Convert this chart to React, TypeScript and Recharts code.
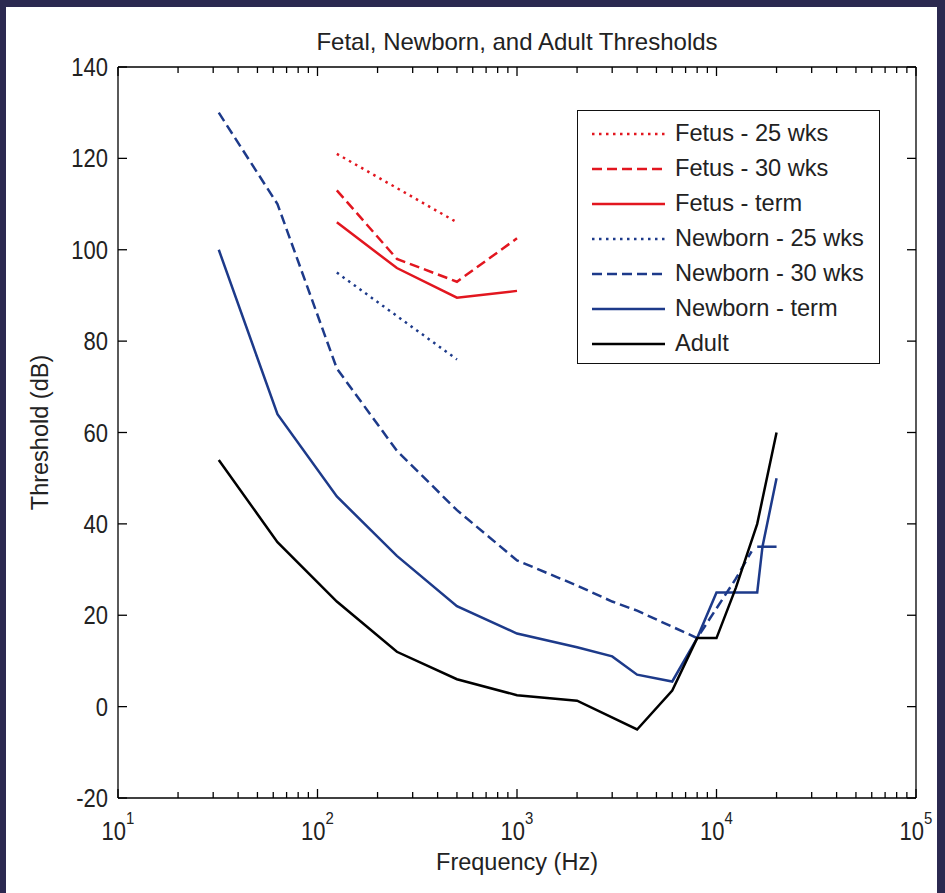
import React from 'react';
import { LineChart, Line, XAxis, YAxis, Legend } from 'recharts';

const RED = '#e2161f';
const BLUE = '#1d3a8a';
const BLACK = '#000000';
const FONT = '"Liberation Sans", Arial, sans-serif';

// frequency (Hz) / threshold (dB) pairs
const FETUS_FREQ = [125, 250, 500, 1000];
const FETUS_25 = [121, 113.5, 106];
const FETUS_30 = [113, 98, 93, 102.5];
const FETUS_TERM = [106, 96, 89.5, 91];

const NB25_FREQ = [125, 250, 500];
const NEWBORN_25 = [95, 85.5, 76];

const NB30_FREQ = [32, 63, 125, 250, 500, 1000, 2000, 3000, 4000, 8000, 12500, 15000];
const NEWBORN_30 = [130, 110, 74, 56, 43, 32, 26.5, 23, 21, 15, 28, 34];

const NBTERM_FREQ = [32, 63, 125, 250, 500, 1000, 2000, 3000, 4000, 6000, 8000, 10000, 16000, 17000, 20000];
const NEWBORN_TERM = [100, 64, 46, 33, 22, 16, 13, 11, 7, 5.5, 15, 25, 25, 35, 50];
// short horizontal piece on the newborn-term curve near 16-20 kHz
const NBTERM_STUB_FREQ = [16000, 20000];
const NEWBORN_TERM_STUB = [35, 35];

const ADULT_FREQ = [32, 63, 125, 250, 500, 1000, 2000, 4000, 6000, 8000, 10000, 12500, 16000, 20000];
const ADULT = [54, 36, 23, 12, 6, 2.5, 1.3, -5, 3.5, 15, 15, 26, 40, 60];

const X_DECADES = [10, 100, 1000, 10000, 100000];
const X_MINOR_MULT = [1, 2, 3, 4, 5, 6, 7, 8, 9];
const Y_TICKS = [-20, 0, 20, 40, 60, 80, 100, 120, 140];

const X_TICKS = X_DECADES.flatMap((d) => (d < 100000 ? X_MINOR_MULT.map((m) => m * d) : [d]));

const zip = (freq: number[], vals: number[]) => vals.map((v, i) => ({ f: freq[i], v }));

const SERIES = [
  { name: 'Fetus - 25 wks', data: zip(FETUS_FREQ, FETUS_25), color: RED, dash: '2.5 4.5' },
  { name: 'Fetus - 30 wks', data: zip(FETUS_FREQ, FETUS_30), color: RED, dash: '10 5' },
  { name: 'Fetus - term', data: zip(FETUS_FREQ, FETUS_TERM), color: RED, dash: undefined },
  { name: 'Newborn - 25 wks', data: zip(NB25_FREQ, NEWBORN_25), color: BLUE, dash: '2.5 4.5' },
  { name: 'Newborn - 30 wks', data: zip(NB30_FREQ, NEWBORN_30), color: BLUE, dash: '10 5' },
  { name: 'Newborn - term', data: zip(NBTERM_FREQ, NEWBORN_TERM), color: BLUE, dash: undefined },
  { name: 'Adult', data: zip(ADULT_FREQ, ADULT), color: BLACK, dash: undefined },
];

const TICK_TEXT = { fontFamily: FONT, fill: '#222' };

const BottomTick = (props: any) => {
  const { x, y, payload } = props;
  const major = X_DECADES.includes(payload.value);
  return (
    <g>
      <line x1={x} y1={y} x2={x} y2={y - (major ? 9 : 6)} stroke="#000" strokeWidth={1.3} />
      {major && (
        <text transform={`translate(${x},${y + 42}) scale(0.88,1)`} textAnchor="middle" fontSize={25} {...TICK_TEXT}>
          10
          <tspan dy={-16} fontSize={17}>
            {Math.round(Math.log10(payload.value))}
          </tspan>
        </text>
      )}
    </g>
  );
};

const TopTick = (props: any) => {
  const { x, y, payload } = props;
  const major = X_DECADES.includes(payload.value);
  return <line x1={x} y1={y} x2={x} y2={y + (major ? 9 : 6)} stroke="#000" strokeWidth={1.3} />;
};

const LeftTick = (props: any) => {
  const { x, y, payload } = props;
  return (
    <g>
      <line x1={x} y1={y} x2={x + 9} y2={y} stroke="#000" strokeWidth={1.3} />
      <text transform={`translate(${x - 10},${y}) scale(0.88,1)`} textAnchor="end" dy="0.36em" fontSize={25} {...TICK_TEXT}>
        {payload.value}
      </text>
    </g>
  );
};

const RightTick = (props: any) => {
  const { x, y } = props;
  return <line x1={x} y1={y} x2={x - 9} y2={y} stroke="#000" strokeWidth={1.3} />;
};

const LegendBox = () => (
  <div
    style={{
      width: 303,
      height: 254,
      border: '1.5px solid #111',
      background: '#fff',
      boxSizing: 'border-box',
      paddingTop: 5,
    }}
  >
    {SERIES.map((s) => (
      <div key={s.name} style={{ display: 'flex', alignItems: 'center', height: 35 }}>
        <svg width={88} height={10} style={{ display: 'block' }}>
          <line x1={14} x2={87} y1={5} y2={5} stroke={s.color} strokeWidth={2.5} strokeDasharray={s.dash} />
        </svg>
        <span style={{ marginLeft: 9, fontFamily: FONT, fontSize: 23.6, color: '#222', lineHeight: 1 }}>{s.name}</span>
      </div>
    ))}
  </div>
);

export default function App() {
  return (
    <div style={{ position: 'absolute', left: 0, top: 0, width: 945, height: 893, background: '#2b2950' }}>
      <div style={{ position: 'absolute', left: 6, top: 7, width: 931, height: 886, background: '#fff' }} />
      <div style={{ position: 'absolute', left: 0, top: 0 }}>
        <LineChart width={945} height={893} margin={{ top: 66, right: 28, bottom: 94, left: 117 }}>
          <XAxis
            dataKey="f"
            type="number"
            scale="log"
            domain={[10, 100000]}
            allowDataOverflow
            ticks={X_TICKS}
            interval={0}
            height={1}
            tickSize={0}
            tickMargin={0}
            tickLine={false}
            tick={<BottomTick />}
            stroke="#000"
            strokeWidth={1.3}
            label={{ value: 'Frequency (Hz)', position: 'bottom', offset: 54, fontSize: 23.5, fontFamily: FONT, fill: '#222' }}
          />
          <XAxis
            xAxisId="top"
            orientation="top"
            dataKey="f"
            type="number"
            scale="log"
            domain={[10, 100000]}
            allowDataOverflow
            ticks={X_TICKS}
            interval={0}
            height={1}
            tickSize={0}
            tickMargin={0}
            tickLine={false}
            tick={<TopTick />}
            stroke="#000"
            strokeWidth={1.3}
            label={{
              value: 'Fetal, Newborn, and Adult Thresholds',
              position: 'top',
              offset: 16,
              fontSize: 24,
              fontFamily: FONT,
              fill: '#222',
            }}
          />
          <YAxis
            type="number"
            domain={[-20, 140]}
            allowDataOverflow
            ticks={Y_TICKS}
            interval={0}
            width={1}
            tickSize={0}
            tickMargin={0}
            tickLine={false}
            tick={<LeftTick />}
            stroke="#000"
            strokeWidth={1.3}
            label={{
              value: 'Threshold (dB)',
              position: 'center',
              angle: -90,
              dx: -78,
              fontSize: 23.5,
              fontFamily: FONT,
              fill: '#222',
            }}
          />
          <YAxis
            yAxisId="right"
            orientation="right"
            type="number"
            domain={[-20, 140]}
            allowDataOverflow
            ticks={Y_TICKS}
            interval={0}
            width={1}
            tickSize={0}
            tickMargin={0}
            tickLine={false}
            tick={<RightTick />}
            stroke="#000"
            strokeWidth={1.3}
          />
          <Legend
            layout="horizontal"
            verticalAlign="middle"
            align="center"
            content={<LegendBox />}
            wrapperStyle={{ position: 'absolute', left: 577, top: 110, width: 303 }}
          />
          {SERIES.slice(0, 6).map((s) => (
            <Line
              key={s.name}
              name={s.name}
              data={s.data}
              dataKey="v"
              type="linear"
              stroke={s.color}
              strokeWidth={2.5}
              strokeDasharray={s.dash}
              dot={false}
              isAnimationActive={false}
            />
          ))}
          <Line
            name="stub"
            legendType="none"
            data={zip(NBTERM_STUB_FREQ, NEWBORN_TERM_STUB)}
            dataKey="v"
            stroke={BLUE}
            strokeWidth={2.5}
            dot={false}
            isAnimationActive={false}
          />
          <Line
            name={SERIES[6].name}
            data={SERIES[6].data}
            dataKey="v"
            type="linear"
            stroke={SERIES[6].color}
            strokeWidth={2.5}
            dot={false}
            isAnimationActive={false}
          />
        </LineChart>
      </div>
    </div>
  );
}
